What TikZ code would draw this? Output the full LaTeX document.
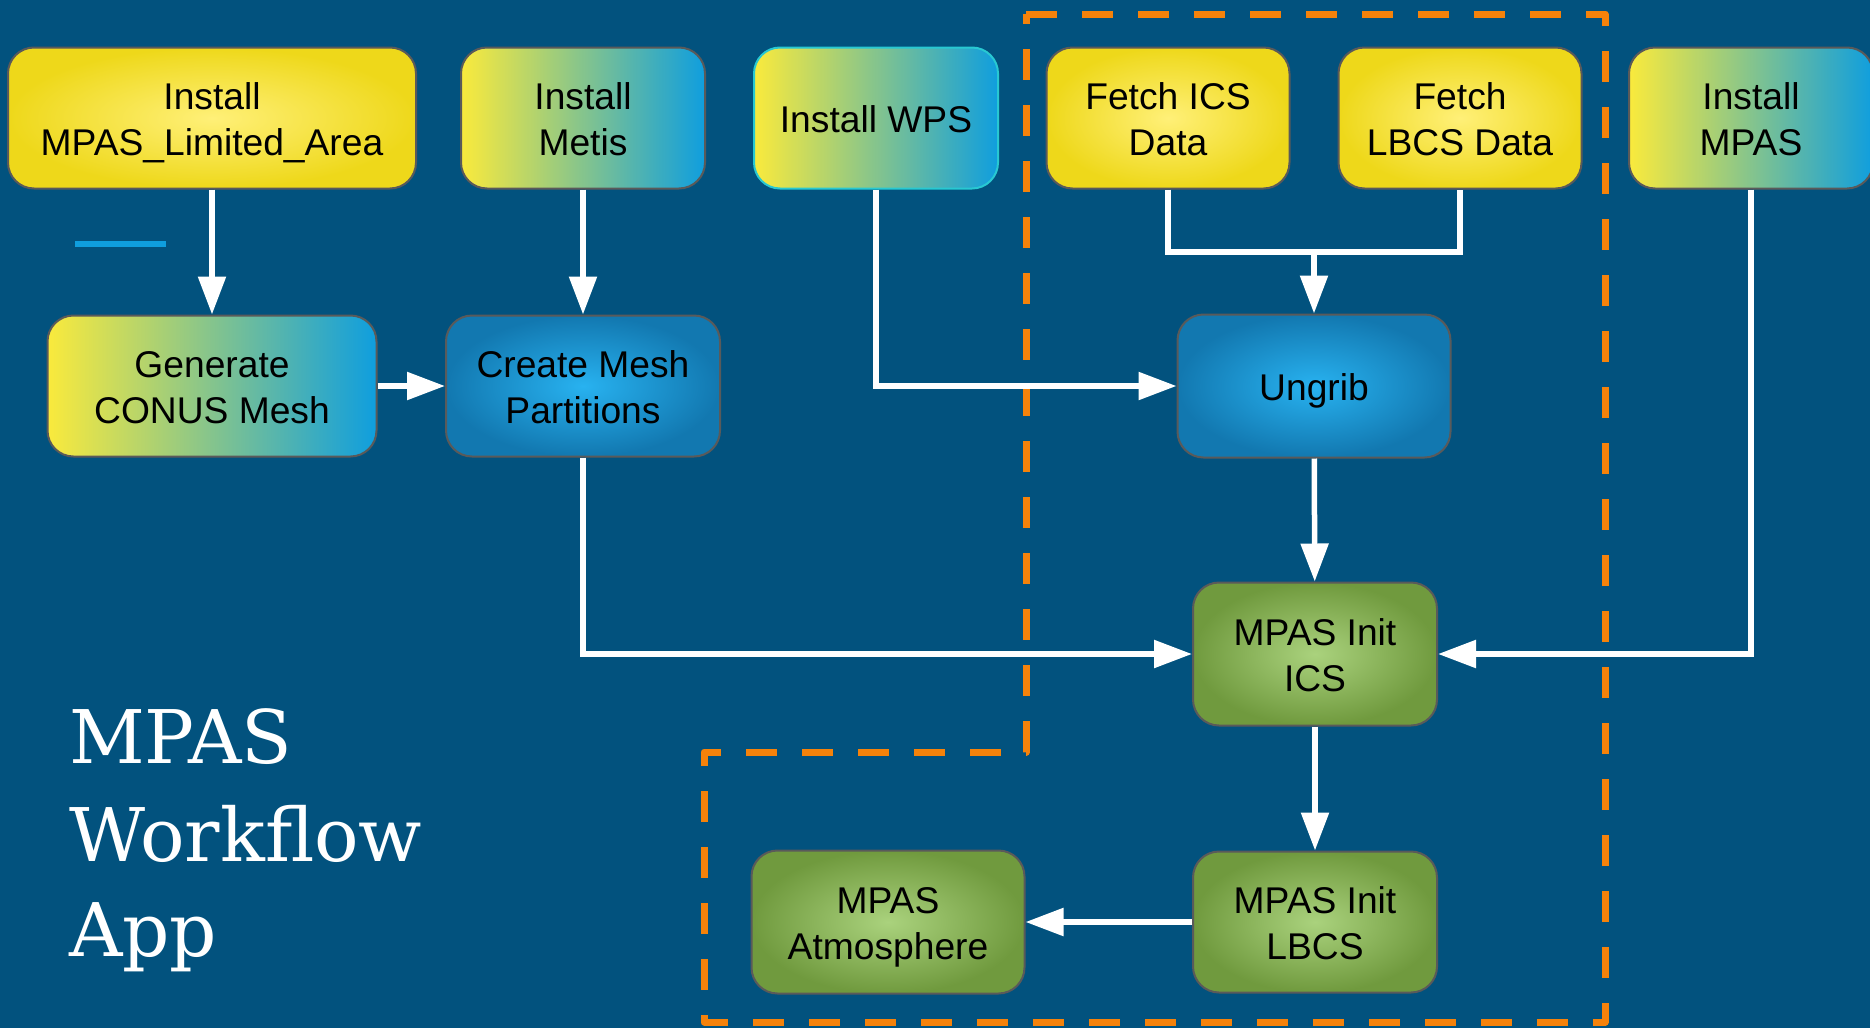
\documentclass[tikz,border=0pt]{standalone}
\usepackage{fontspec}
\setmainfont{Liberation Sans}
\newfontfamily\titlefont{DejaVu Serif}
\usetikzlibrary{arrows.meta,shadings}
\definecolor{bg}{RGB}{2,82,126}
\definecolor{yin}{RGB}{255,240,120}
\definecolor{yout}{RGB}{238,216,26}
\definecolor{gy}{RGB}{250,234,60}
\definecolor{gb}{RGB}{15,158,222}
\definecolor{bin}{RGB}{40,178,240}
\definecolor{bout}{RGB}{18,120,176}
\definecolor{gin}{RGB}{170,210,125}
\definecolor{gout}{RGB}{112,154,62}
\definecolor{dashor}{RGB}{245,130,10}
\definecolor{edgec}{RGB}{90,90,90}
\definecolor{wpsedge}{RGB}{40,200,210}
\newcommand\boxtext[1]{\raisebox{-5.5pt}[\height][\depth]{\begin{tabular}{@{}c@{}}#1\end{tabular}}}
\tikzset{
  box/.style={draw=edgec, line width=2pt, rounded corners=26pt, minimum height=141pt,
    inner sep=0pt, font=\fontsize{37.2}{45.3}\selectfont, text=black},
  yel/.style={box, inner color=yin, outer color=yout},
  grad/.style={box, left color=gy, right color=gb},
  blu/.style={box, inner color=bin, outer color=bout},
  grn/.style={box, inner color=gin, outer color=gout},
  flow/.style={draw=white, line width=5.5pt, -{Triangle[length=38pt,width=27pt]}},
  link/.style={draw=white, line width=5.5pt},
  titletext/.style={text=white, inner sep=0pt, anchor=base west, font=\titlefont\fontsize{74}{97}\selectfont},
}
\begin{document}
\begin{tikzpicture}[x=1pt,y=-1pt]
\useasboundingbox (0,0) rectangle (1870,1028);
\fill[bg] (0,0) rectangle (1870,1028);

% dashed group outline
\draw[dashor, line width=7pt, dash pattern=on 31pt off 25pt, line join=round]
  (1026,14) -- (1605,14) -- (1605,1022) -- (704,1022) -- (704,752) -- (1026,752) -- cycle;

% small blue dash
\draw[gb, line width=6pt] (75,244) -- (166,244);

% title
\node[titletext] (t1) at (69,763) {MPAS};
\node[titletext] (t2) at (69,861) {Workflow};
\node[titletext] (t3) at (69,956) {App};

% nodes
\node[yel, minimum width=408pt] (la) at (212,118) {\boxtext{Install\\MPAS\_Limited\_Area}};
\node[grad, minimum width=244pt] (metis) at (583,118) {\boxtext{Install\\Metis}};
\node[grad, draw=wpsedge, minimum width=244pt] (wps) at (876,118) {\boxtext{Install WPS}};
\node[yel, minimum width=243pt] (fics) at (1168,118) {\boxtext{Fetch ICS\\Data}};
\node[yel, minimum width=243pt] (flbcs) at (1460,118) {\boxtext{Fetch\\LBCS Data}};
\node[grad, minimum width=244pt] (impas) at (1751,118) {\boxtext{Install\\MPAS}};

\node[grad, minimum width=329pt] (gen) at (212,386) {\boxtext{Generate\\CONUS Mesh}};
\node[blu, minimum width=274pt] (cmp) at (583,386) {\boxtext{Create Mesh\\Partitions}};
\node[blu, minimum width=273pt, minimum height=143pt] (ung) at (1314,386) {\boxtext{Ungrib}};

\node[grn, minimum width=244pt, minimum height=143pt] (ics) at (1315,654) {\boxtext{MPAS Init\\ICS}};
\node[grn, minimum width=244pt] (lbcs) at (1315,922) {\boxtext{MPAS Init\\LBCS}};
\node[grn, minimum width=273pt, minimum height=143pt] (atm) at (888,922) {\boxtext{MPAS\\Atmosphere}};

% connectors
\coordinate (j) at (1314,252);
\draw[flow] (la) -- (gen);
\draw[flow] (metis) -- (cmp);
\draw[flow] (gen) -- (cmp);
\draw[flow] (wps.south) |- (ung.west);
\draw[link] (fics.south) |- (j) -| (flbcs.south);
\draw[flow] (j) -- (ung.north);
\draw[flow] (ung) -- (ics);
\draw[flow] (cmp.south) |- (ics.west);
\draw[flow] (impas.south) |- (ics.east);
\draw[flow] (ics) -- (lbcs);
\draw[flow] (lbcs) -- (atm);
\end{tikzpicture}
\end{document}
